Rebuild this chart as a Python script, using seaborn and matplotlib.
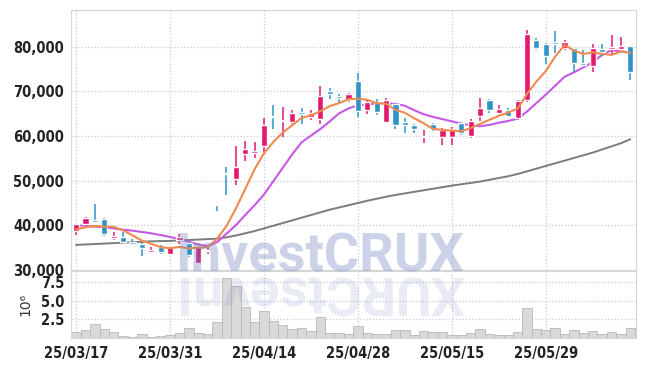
import numpy as np
import pandas as pd
import seaborn as sns
import matplotlib.pyplot as plt
from matplotlib.ticker import FuncFormatter

dates = ["25/03/17", "25/03/18", "25/03/19", "25/03/20", "25/03/21",
         "25/03/24", "25/03/25", "25/03/26", "25/03/27", "25/03/28",
         "25/03/31", "25/04/01", "25/04/02", "25/04/03", "25/04/04",
         "25/04/07", "25/04/08", "25/04/09", "25/04/10", "25/04/11",
         "25/04/14", "25/04/15", "25/04/16", "25/04/17", "25/04/18",
         "25/04/21", "25/04/22", "25/04/23", "25/04/24", "25/04/25",
         "25/04/28", "25/04/29", "25/04/30", "25/05/02", "25/05/07",
         "25/05/08", "25/05/09", "25/05/12", "25/05/13", "25/05/14",
         "25/05/15", "25/05/16", "25/05/19", "25/05/20", "25/05/21",
         "25/05/22", "25/05/23", "25/05/26", "25/05/27", "25/05/28",
         "25/05/29", "25/05/30", "25/06/02", "25/06/04", "25/06/05",
         "25/06/09", "25/06/10", "25/06/11", "25/06/12", "25/06/13"]

opens = [38790, 40270, 41000, 41400, 37250, 37400, 36300, 35750, 34100, 35100,
         33600, 36600, 36100, 31650, 34200, 44550, 51700, 50350, 55950, 56100,
         57750, 64400, 63400, 63250, 65450, 64350, 63900, 70000, 68900, 68200,
         72400, 65800, 67700, 63250, 67300, 63100, 62400, 59800, 62650, 59900,
         59700, 63000, 60050, 64500, 68000, 65200, 65800, 64150, 68050, 81450,
         80550, 81000, 79850, 79650, 76150, 75800, 79500, 79450, 79500, 80100]
highs = [40290, 41800, 44700, 41570, 38430, 38430, 36930, 36330, 35150, 35590,
         35100, 38050, 36300, 35400, 35200, 44600, 53000, 57740, 58930, 58700,
         64160, 66900, 66550, 65850, 66410, 65950, 71160, 70700, 69530, 69700,
         74200, 68200, 68400, 68650, 67450, 64160, 62700, 61300, 63000, 61900,
         62100, 63250, 63750, 68600, 68350, 66900, 66400, 68000, 83850, 82060,
         80850, 83560, 81600, 79820, 79200, 80560, 80560, 82600, 82300, 80300]
lows = [37830, 39460, 40800, 37680, 36790, 35930, 35590, 33060, 34000, 33510,
        33550, 35820, 33000, 31500, 33580, 43250, 46780, 49000, 54500, 55000,
        55730, 61700, 59870, 62700, 62700, 63550, 62810, 68400, 67130, 67700,
        64200, 64970, 64700, 63000, 61700, 60700, 60600, 58350, 61200, 58000,
        58000, 60200, 59500, 63450, 65100, 64900, 64200, 63600, 67700, 79370,
        76080, 78670, 79200, 74400, 75850, 74300, 77860, 78300, 79200, 72600]
closes = [40220, 41570, 40800, 38000, 37700, 36300, 35900, 35000, 34250, 34100,
          35050, 37300, 33400, 35250, 34400, 44450, 51550, 53100, 57000, 56700,
          62400, 64200, 63600, 65250, 65000, 65100, 68900, 69400, 68550, 69350,
          65700, 67700, 65500, 68050, 62400, 62500, 61500, 59950, 61700, 61300,
          61700, 60800, 63450, 66400, 65950, 66150, 64450, 67900, 82800, 79800,
          77950, 80700, 81000, 76400, 76050, 79800, 78850, 79950, 80200, 74400]

# volume in millions of shares
volume_m = [0.75, 1.1, 1.9, 1.2, 0.8, 0.25, 0.12, 0.5, 0.15, 0.25,
            0.4, 0.65, 1.35, 0.65, 0.55, 2.15, 8.0, 6.95, 4.2, 2.15,
            3.65, 2.3, 1.75, 1.2, 1.35, 0.9, 2.85, 0.65, 0.65, 0.5,
            1.6, 0.65, 0.5, 0.5, 1.05, 1.05, 0.4, 0.9, 0.8, 0.8,
            0.4, 0.4, 0.65, 1.2, 0.5, 0.4, 0.4, 0.8, 4.05, 1.2,
            1.05, 1.35, 0.5, 1.05, 0.65, 0.9, 0.5, 0.8, 0.5, 1.35]

ma5 = [39100, 39550, 39840, 39700, 39660, 38870, 37740, 36580, 35830, 35110,
       34860, 35140, 34820, 35020, 35080, 36960, 39810, 43750, 48100, 52560,
       56150, 58680, 60780, 62430, 64090, 64630, 65570, 66730, 67390, 68260,
       68380, 68140, 67360, 67260, 65870, 65230, 63990, 62880, 61610, 61390,
       61230, 61090, 61790, 62730, 63660, 64550, 65280, 66170, 69450, 72220,
       74580, 77830, 80450, 79170, 78420, 78790, 78420, 78210, 78970, 78640]
ma20 = [40000, 39900, 39700, 39550, 39300, 39000, 38800, 38500, 38200, 37800,
        37400, 36900, 36300, 35700, 35300, 36200, 38100, 40000, 42300, 44500,
        46900, 49900, 52900, 55900, 58600, 60100, 61600, 63300, 65100, 66200,
        66900, 67100, 67300, 67400, 67200, 66800, 65800, 64900, 64300, 63800,
        63300, 62800, 62400, 62200, 62500, 63000, 63400, 63900, 65500, 67400,
        69300, 71300, 73300, 74300, 75400, 76600, 78200, 79300, 79000, 78700]
ma60 = [35600, 35700, 35800, 35900, 36000, 36100, 36200, 36300, 36400, 36450,
        36500, 36600, 36700, 36800, 36900, 37000, 37300, 37700, 38200, 38700,
        39300, 39900, 40500, 41100, 41700, 42300, 42900, 43500, 44000, 44500,
        45000, 45500, 45950, 46400, 46800, 47150, 47500, 47850, 48200, 48550,
        48900, 49200, 49500, 49800, 50200, 50600, 51000, 51500, 52100, 52700,
        53300, 53900, 54500, 55100, 55700, 56300, 57000, 57700, 58400, 59300]

tick_pos = [0, 10, 20, 30, 40, 50]

UP = "#e5186c"
DOWN = "#2f93c7"
GRID = "#c9c9dc"

sns.set_style("white")
plt.rcParams["font.family"] = ["DejaVu Sans"]

df = pd.DataFrame({"i": np.arange(len(dates)), "open": opens, "high": highs,
                   "low": lows, "close": closes, "vol": volume_m,
                   "ma5": ma5, "ma20": ma20, "ma60": ma60})

fig = plt.figure(figsize=(6.45, 3.66), dpi=100)
ax = fig.add_axes([0.110, 0.262, 0.876, 0.711])
ax2 = fig.add_axes([0.110, 0.077, 0.876, 0.183], sharex=ax)

# moving averages
sns.lineplot(data=df, x="i", y="ma60", ax=ax, color="#7c7c7c", lw=1.4, zorder=2)
sns.lineplot(data=df, x="i", y="ma20", ax=ax, color="#c658e6", lw=1.5, zorder=2)
sns.lineplot(data=df, x="i", y="ma5", ax=ax, color="#ef8a50", lw=1.5, zorder=4)

# candles
up = df.close >= df.open
colors = np.where(up, UP, DOWN)
body_lo = np.minimum(df.open, df.close)
body_h = np.maximum((df.close - df.open).abs(), 280)
ax.vlines(df.i, df.low, df.high, colors=colors, lw=1.1, zorder=3)
ax.bar(df.i, body_h, bottom=body_lo, width=0.66, color=colors, zorder=3)

ax.set_xlim(-0.55, 59.6)
ax.set_ylim(29950, 88300)
ax.set_yticks([30000, 40000, 50000, 60000, 70000, 80000])
ax.yaxis.set_major_formatter(FuncFormatter(lambda v, p: f"{int(v):,}"))
ax.set_xticks(tick_pos)
ax.tick_params(axis="x", labelbottom=False, length=0)
ax.tick_params(axis="y", length=0, pad=5, labelsize=10.5, labelcolor="#222222")
ax.grid(True, ls=":", color=GRID, lw=0.9)
ax.set_xlabel("")
ax.set_ylabel("")

# volume
sns.barplot(data=df, x="i", y="vol", ax=ax2, color="#d9d9d9", saturation=1,
            width=1.0, edgecolor="#b8b8b8", linewidth=0.6, native_scale=True)
ax2.set_xlim(-0.55, 59.6)
ax2.set_ylim(0, 9.0)
ax2.set_yticks([2.5, 5.0, 7.5])
ax2.set_xticks(tick_pos)
ax2.set_xticklabels([dates[k] for k in tick_pos])
ax2.tick_params(axis="x", length=0, pad=6, labelsize=10.5, labelcolor="#222222")
ax2.tick_params(axis="y", length=0, pad=5, labelsize=10.5, labelcolor="#222222")
ax2.grid(True, ls=":", color=GRID, lw=0.9)
ax2.set_axisbelow(True)
ax2.set_xlabel("")
ax2.set_ylabel("10⁶", fontsize=10, color="#333333", labelpad=6)

for lbl in ax.get_yticklabels() + ax2.get_yticklabels() + ax2.get_xticklabels():
    lbl.set_fontstretch("condensed")
    lbl.set_fontweight("bold")

for a in (ax, ax2):
    for s in a.spines.values():
        s.set_color("#d6d6d6")
        s.set_linewidth(0.8)

# watermark and its reflection
fig.text(0.496, 0.258, "InvestCRUX", fontsize=39, fontweight="bold",
         family=["Roboto", "DejaVu Sans"], color="#6f7fbf", alpha=0.35,
         ha="center", va="baseline")
fig.text(0.496, 0.247, "XURCtsevnI", fontsize=39, fontweight="bold",
         family=["Roboto", "DejaVu Sans"], color="#6f7fbf", alpha=0.15,
         ha="center", va="baseline", rotation=180, rotation_mode="anchor")

plt.savefig("out.png", dpi=100)
